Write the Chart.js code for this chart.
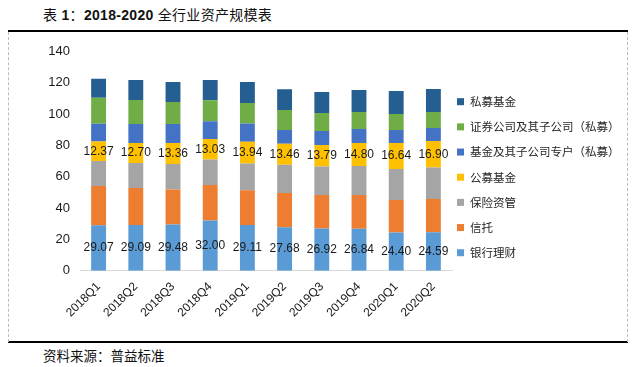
<!DOCTYPE html>
<html>
<head>
<meta charset="utf-8">
<script src="https://cdn.jsdelivr.net/npm/chart.js@4/dist/chart.umd.min.js"></script>
<style>
  html, body { margin: 0; padding: 0; background: #fff; }
  body { width: 642px; height: 367px; position: relative; overflow: hidden; font-family: "Noto Sans CJK SC", sans-serif; }
  #title { position: absolute; left: 43px; top: 5px; font-size: 14px; line-height: 20px; color: #111; white-space: nowrap; letter-spacing: 0.3px; font-family: "Liberation Sans", "Noto Sans CJK SC", sans-serif; }
  #title b { font-weight: bold; }
  #source { position: absolute; left: 43px; top: 345px; font-size: 13.5px; line-height: 20px; color: #111; white-space: nowrap; }
  .hline { position: absolute; left: 8px; width: 620px; height: 0; border-top: 2px solid #000; }
  .vline { position: absolute; top: 32px; height: 310px; width: 0; border-left: 1px dashed #bbb; }
  #wrap { position: absolute; left: 0; top: 0; width: 642px; height: 367px; }
</style>
</head>
<body>
<div id="title">表 <b>1</b>：<b>2018-2020</b> 全行业资产规模表</div>
<div class="hline" style="top:30px"></div>
<div class="hline" style="top:341px"></div>
<div class="vline" style="left:8px"></div>
<div class="vline" style="left:627px"></div>
<div id="source">资料来源：普益标准</div>
<div id="wrap"><canvas id="c" width="642" height="367"></canvas></div>
<script>
const categories = ["2018Q1","2018Q2","2018Q3","2018Q4","2019Q1","2019Q2","2019Q3","2019Q4","2020Q1","2020Q2"];
const yTicks = [0, 20, 40, 60, 80, 100, 120, 140];
const seriesNames = ["银行理财","信托","保险资管","公募基金","基金及其子公司专户（私募）","证券公司及其子公司（私募）","私募基金"];
const bankWM     = [29.07, 29.09, 29.48, 32.00, 29.11, 27.68, 26.92, 26.84, 24.40, 24.59];
const trust      = [25.0, 23.7, 22.4, 22.7, 22.2, 21.9, 21.4, 21.5, 20.7, 21.2];
const insurance  = [16.0, 16.0, 16.2, 16.3, 17.1, 18.0, 18.1, 18.4, 19.8, 20.1];
const publicFund = [12.37, 12.70, 13.36, 13.03, 13.94, 13.46, 13.79, 14.80, 16.64, 16.90];
const fundSub    = [11.3, 12.1, 12.1, 11.4, 11.5, 8.7, 9.0, 8.9, 8.3, 8.3];
const securities = [16.6, 15.3, 14.1, 13.4, 13.2, 12.8, 11.4, 10.9, 10.2, 10.2];
const privateFund= [12.1, 12.8, 12.7, 12.8, 13.4, 13.3, 13.4, 14.0, 14.7, 14.6];

const seriesData = [bankWM, trust, insurance, publicFund, fundSub, securities, privateFund];
const colors = ["#5B9BD5","#ED7D31","#A5A5A5","#FFC000","#4472C4","#70AD47","#255E91"];
const labeled = [true, false, false, true, false, false, false];

const datasets = seriesData.map((d, i) => ({
  label: seriesNames[i],
  data: d,
  backgroundColor: colors[i],
  borderWidth: 0,
  categoryPercentage: 1.0,
  barPercentage: 0.4,
  showValues: labeled[i]
}));

const valueLabels = {
  id: 'valueLabels',
  afterDatasetsDraw(chart) {
    const ctx = chart.ctx;
    ctx.save();
    ctx.font = '12px "Liberation Sans", Arial, sans-serif';
    ctx.fillStyle = '#1a1a1a';
    ctx.textAlign = 'center';
    ctx.textBaseline = 'middle';
    chart.data.datasets.forEach((ds, i) => {
      if (!ds.showValues) return;
      const meta = chart.getDatasetMeta(i);
      meta.data.forEach((el, j) => {
        const v = ds.data[j];
        const cy = (el.y + el.base) / 2;
        ctx.fillText(v.toFixed(2), el.x, cy);
      });
    });
    ctx.restore();
  }
};

const sideLegend = {
  id: 'sideLegend',
  afterDraw(chart) {
    const ctx = chart.ctx;
    const area = chart.chartArea;
    const x0 = area.right + 5;
    const y0 = 101.7;
    const step = 25.17;
    ctx.save();
    ctx.font = '11.5px "Noto Sans CJK SC", sans-serif';
    ctx.textBaseline = 'middle';
    ctx.textAlign = 'left';
    const n = chart.data.datasets.length;
    for (let k = 0; k < n; k++) {
      const i = n - 1 - k;
      const ds = chart.data.datasets[i];
      const y = y0 + step * k;
      ctx.fillStyle = ds.backgroundColor;
      ctx.fillRect(x0, y - 3.5, 7, 7);
      ctx.fillStyle = '#262626';
      ctx.fillText(ds.label, x0 + 13, y);
    }
    ctx.restore();
  }
};

new Chart(document.getElementById('c'), {
  type: 'bar',
  data: { labels: categories, datasets: datasets },
  options: {
    responsive: false,
    animation: false,
    events: [],
    layout: { padding: { left: 0, right: 190, top: 51.3, bottom: 0 } },
    plugins: { legend: { display: false }, tooltip: { enabled: false } },
    scales: {
      x: {
        stacked: true,
        grid: { display: false, drawTicks: false },
        border: { display: true, color: '#d9d9d9', width: 1 },
        ticks: {
          maxRotation: 45, minRotation: 45, padding: 9,
          color: '#1a1a1a',
          font: { family: '"Liberation Sans", Arial, sans-serif', size: 12 }
        },
        afterFit(scale) { scale.height = 96.3; }
      },
      y: {
        stacked: true,
        min: 0, max: 140,
        afterBuildTicks(scale) { scale.ticks = yTicks.map(v => ({ value: v })); },
        grid: { display: false, drawTicks: false },
        border: { display: false },
        ticks: {
          padding: 10,
          color: '#1a1a1a',
          font: { family: '"Liberation Sans", Arial, sans-serif', size: 13 }
        },
        afterFit(scale) { scale.width = 80; }
      }
    }
  },
  plugins: [valueLabels, sideLegend]
});
</script>
</body>
</html>
